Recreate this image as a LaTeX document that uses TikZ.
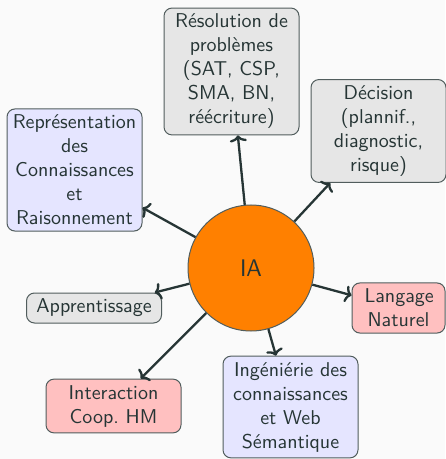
\documentclass[tikz,border=0pt]{standalone}
\usepackage{fontspec}
\usetikzlibrary{arrows.meta}
\renewcommand{\familydefault}{\sfdefault}
\definecolor{ink}{HTML}{263535}
\definecolor{page}{HTML}{FAFAFA}
\definecolor{boxgray}{HTML}{E6E6E6}
\definecolor{boxblue}{HTML}{E5E5FF}
\definecolor{boxred}{HTML}{FFC0C0}
\definecolor{core}{HTML}{FF8000}
\begin{document}
\sffamily
\begin{tikzpicture}[x=0.5pt,y=-0.5pt,
  topic/.style={draw=ink!80, line width=0.5pt, rounded corners=4pt,
    align=center, text=ink, inner ysep=3pt, inner xsep=2.75pt,
    text width=62pt, font=\normalsize\sffamily},
  grayt/.style={topic, fill=boxgray},
  bluet/.style={topic, fill=boxblue},
  redt/.style={topic, fill=boxred},
  link/.style={-{Computer Modern Rightarrow[length=3.2pt,width=8.5pt]},
    draw=ink, line width=1.15pt}]
  % page background fixes the picture size
  \fill[page] (0,0) rectangle (445,459);
  \useasboundingbox (0,0) rectangle (445,459);

  % central concept
  \node[circle, draw=ink!80, line width=0.5pt, fill=core, minimum size=63pt,
        inner sep=0pt, text=ink, font=\large\sffamily] (ia) at (251,268) {IA};

  % surrounding fields
  \node[grayt] (res) at (231.5,71.5) {Résolution de\\problèmes\\(SAT, CSP,\\SMA, BN,\\réécriture)};
  \node[grayt] (dec) at (378.5,131) {Décision\\(plannif.,\\diagnostic,\\risque)};
  \node[bluet] (rep) at (74.5,170) {Représentation\\des\\Connaissances\\et\\Raisonnement};
  \node[grayt] (app) at (94,308) {Apprentissage};
  \node[redt, text width=34pt, inner xsep=6.25pt] (lang) at (398.5,308) {Langage\\Naturel};
  \node[redt] (inter) at (113.5,406) {Interaction\\Coop.\ HM};
  \node[bluet] (ing) at (290.5,407) {Ingéniérie des\\connaissances\\et Web\\Sémantique};

  % links from the centre
  \foreach \t in {res,dec,rep,app,lang,inter,ing}
    \draw[link] (ia) -- (\t);
\end{tikzpicture}
\end{document}
